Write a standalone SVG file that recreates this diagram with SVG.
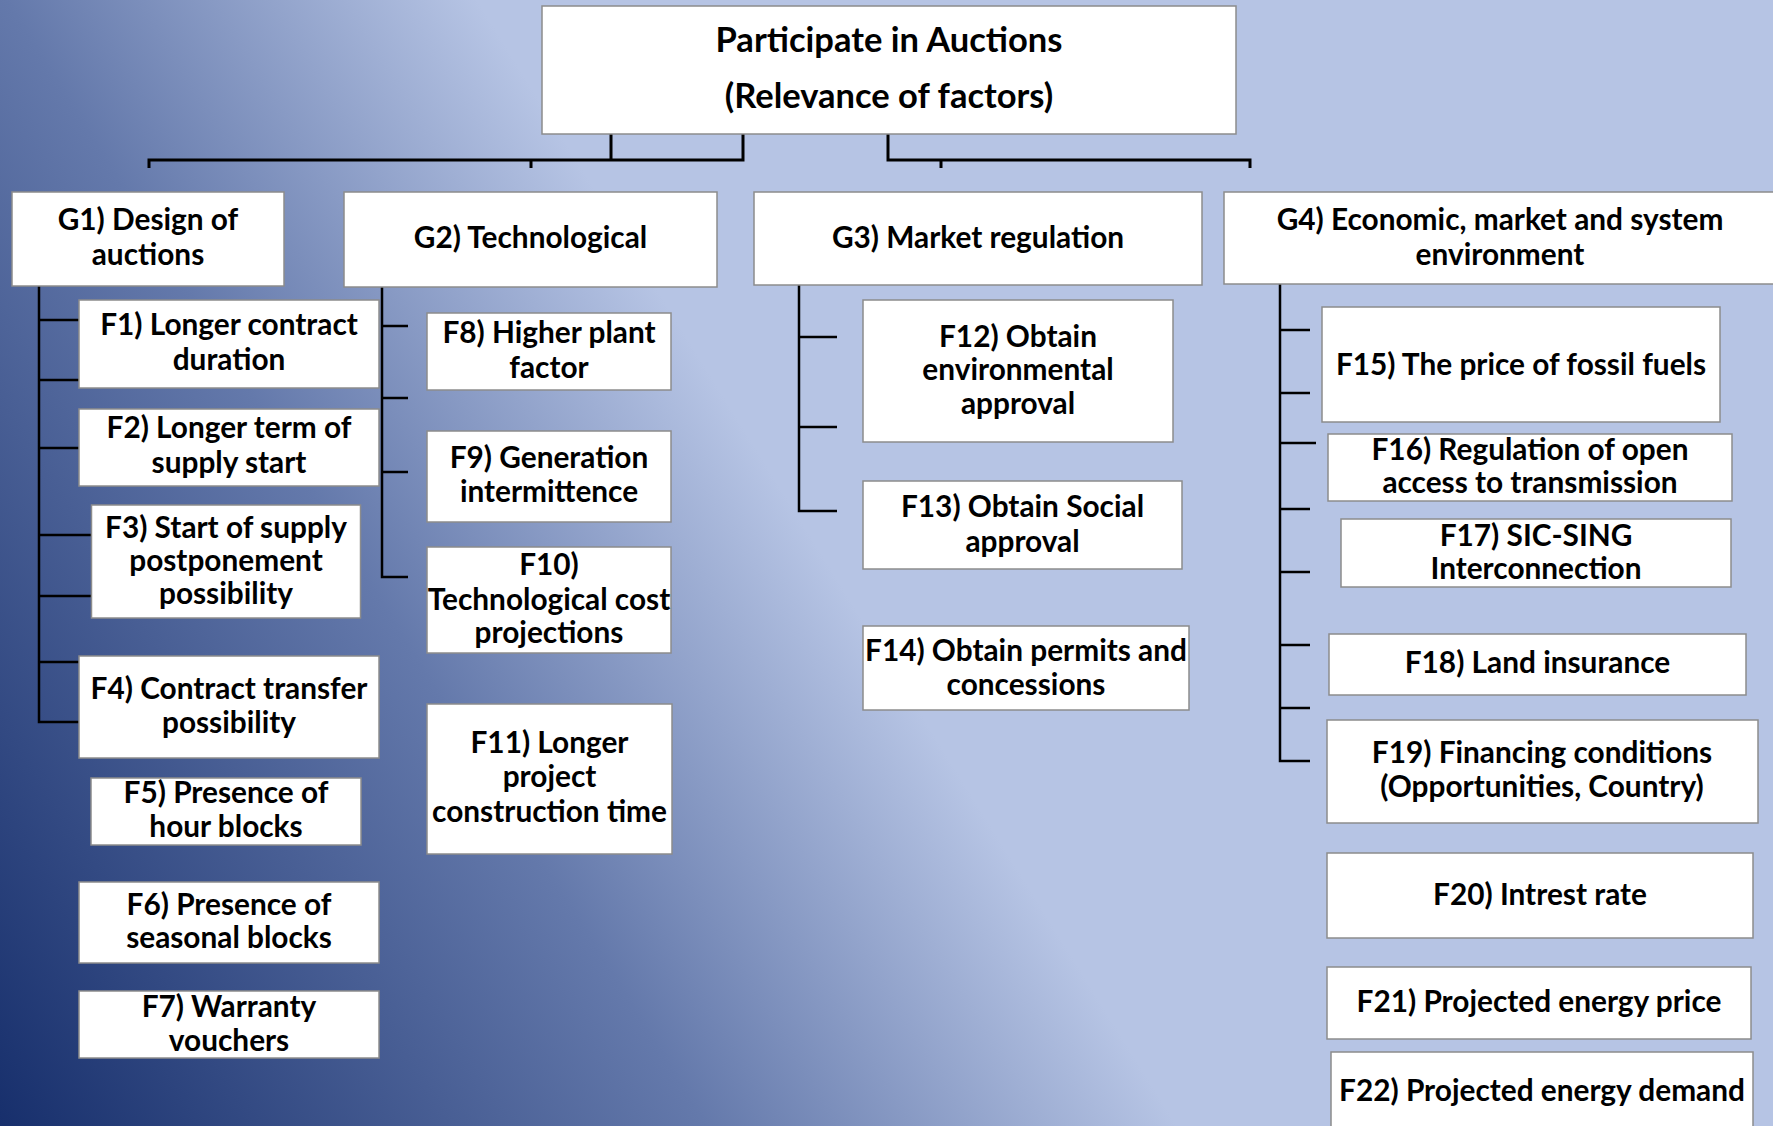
<svg xmlns="http://www.w3.org/2000/svg" width="1773" height="1126" viewBox="0 0 1773 1126">
<defs>
<linearGradient id="bg" gradientUnits="userSpaceOnUse" x1="0" y1="1126" x2="849" y2="598">
<stop offset="0" stop-color="#172f6c"/>
<stop offset="0.6" stop-color="#6479ab"/>
<stop offset="1" stop-color="#b6c4e4"/>
</linearGradient>
<style>
.box{fill:#fff;stroke:#8c8c8c;stroke-width:1.5}
.t{font-family:Lato,"Liberation Sans",sans-serif;font-weight:700;font-size:29.8px;fill:#000;text-anchor:middle}
.tt{font-size:34.5px}
.c{stroke:#000;stroke-width:2.5;fill:none}
.ct{stroke:#000;stroke-width:3;fill:none}
</style>
</defs>
<rect x="0" y="0" width="1773" height="1126" fill="url(#bg)"/>
<g id="connectors">
<path class="ct" d="M149,168 V160 H743 V134 M531,160 V168 M611,134 V160"/>
<path class="ct" d="M888,134 V160 H1250 V168 M941,160 V168"/>
<path class="c" d="M39,286 V722 H79 M39,320 H79 M39,380 H79 M39,448 H79 M39,535 H91 M39,596 H91 M39,662 H79"/>
<path class="c" d="M382,287 V577 H408 M382,326 H408 M382,398 H408 M382,472 H408"/>
<path class="c" d="M799,285 V511 H837 M799,337 H837 M799,427 H837"/>
<path class="c" d="M1280,284 V761 H1310 M1280,330 H1310 M1280,393 H1310 M1280,443 H1316 M1280,509 H1310 M1280,572 H1310 M1280,645 H1310 M1280,708 H1310"/>
</g>
<g id="root"><rect class="box" x="542" y="6" width="694" height="128"/><text class="t tt" x="889" y="52">Participate in Auctions</text><text class="t tt" x="889" y="108">(Relevance of factors)</text></g>
<g id="G1"><rect class="box" x="12" y="192" width="272" height="94"/><text class="t" x="148" y="230">G1) Design of</text><text class="t" x="148" y="265">auctions</text></g>
<g id="G2"><rect class="box" x="344" y="192" width="373" height="95"/><text class="t" x="530.5" y="248">G2) Technological</text></g>
<g id="G3"><rect class="box" x="754" y="192" width="448" height="93"/><text class="t" x="978" y="248">G3) Market regulation</text></g>
<g id="G4"><rect class="box" x="1224" y="192" width="552" height="92"/><text class="t" x="1500" y="230">G4) Economic, market and system</text><text class="t" x="1500" y="265">environment</text></g>
<g id="F1"><rect class="box" x="79" y="300" width="300" height="88"/><text class="t" x="229" y="335">F1) Longer contract</text><text class="t" x="229" y="370">duration</text></g>
<g id="F2"><rect class="box" x="79" y="409" width="300" height="77"/><text class="t" x="229" y="438">F2) Longer term of</text><text class="t" x="229" y="473">supply start</text></g>
<g id="F3"><rect class="box" x="91.5" y="505" width="269" height="113"/><text class="t" x="226" y="538">F3) Start of supply</text><text class="t" x="226" y="571">postponement</text><text class="t" x="226" y="604">possibility</text></g>
<g id="F4"><rect class="box" x="79" y="656" width="300" height="102"/><text class="t" x="229" y="699">F4) Contract transfer</text><text class="t" x="229" y="733">possibility</text></g>
<g id="F5"><rect class="box" x="91" y="778" width="270" height="67"/><text class="t" x="226" y="803">F5) Presence of</text><text class="t" x="226" y="837">hour blocks</text></g>
<g id="F6"><rect class="box" x="79" y="882" width="300" height="81"/><text class="t" x="229" y="915">F6) Presence of</text><text class="t" x="229" y="948">seasonal blocks</text></g>
<g id="F7"><rect class="box" x="79" y="991" width="300" height="67"/><text class="t" x="229" y="1017">F7) Warranty</text><text class="t" x="229" y="1051">vouchers</text></g>
<g id="F8"><rect class="box" x="427" y="313" width="244" height="77"/><text class="t" x="549" y="343">F8) Higher plant</text><text class="t" x="549" y="378">factor</text></g>
<g id="F9"><rect class="box" x="427" y="431" width="244" height="91"/><text class="t" x="549" y="468">F9) Generation</text><text class="t" x="549" y="502">intermittence</text></g>
<g id="F10"><rect class="box" x="427" y="547" width="244" height="106"/><text class="t" x="549" y="575">F10)</text><text class="t" x="549" y="610">Technological cost</text><text class="t" x="549" y="643">projections</text></g>
<g id="F11"><rect class="box" x="427" y="704" width="245" height="150"/><text class="t" x="549.5" y="753">F11) Longer</text><text class="t" x="549.5" y="787">project</text><text class="t" x="549.5" y="822">construction time</text></g>
<g id="F12"><rect class="box" x="863" y="300" width="310" height="142"/><text class="t" x="1018" y="347">F12) Obtain</text><text class="t" x="1018" y="380">environmental</text><text class="t" x="1018" y="414">approval</text></g>
<g id="F13"><rect class="box" x="863" y="481" width="319" height="88"/><text class="t" x="1022.5" y="517">F13) Obtain Social</text><text class="t" x="1022.5" y="552">approval</text></g>
<g id="F14"><rect class="box" x="863" y="626" width="326" height="84"/><text class="t" x="1026" y="661">F14) Obtain permits and</text><text class="t" x="1026" y="695">concessions</text></g>
<g id="F15"><rect class="box" x="1322" y="307" width="398" height="115"/><text class="t" x="1521" y="375">F15) The price of fossil fuels</text></g>
<g id="F16"><rect class="box" x="1328" y="434" width="404" height="67"/><text class="t" x="1530" y="460">F16) Regulation of open</text><text class="t" x="1530" y="493">access to transmission</text></g>
<g id="F17"><rect class="box" x="1341" y="519" width="390" height="68"/><text class="t" x="1536" y="546">F17) SIC-SING</text><text class="t" x="1536" y="579">Interconnection</text></g>
<g id="F18"><rect class="box" x="1329" y="634" width="417" height="61"/><text class="t" x="1537.5" y="673">F18) Land insurance</text></g>
<g id="F19"><rect class="box" x="1327" y="720" width="431" height="103"/><text class="t" x="1542" y="763">F19) Financing conditions</text><text class="t" x="1542" y="797">(Opportunities, Country)</text></g>
<g id="F20"><rect class="box" x="1327" y="853" width="426" height="85"/><text class="t" x="1540" y="905">F20) Intrest rate</text></g>
<g id="F21"><rect class="box" x="1327" y="967" width="424" height="72"/><text class="t" x="1539" y="1012">F21) Projected energy price</text></g>
<g id="F22"><rect class="box" x="1331" y="1052" width="422" height="80"/><text class="t" x="1542" y="1101">F22) Projected energy demand</text></g>
</svg>
